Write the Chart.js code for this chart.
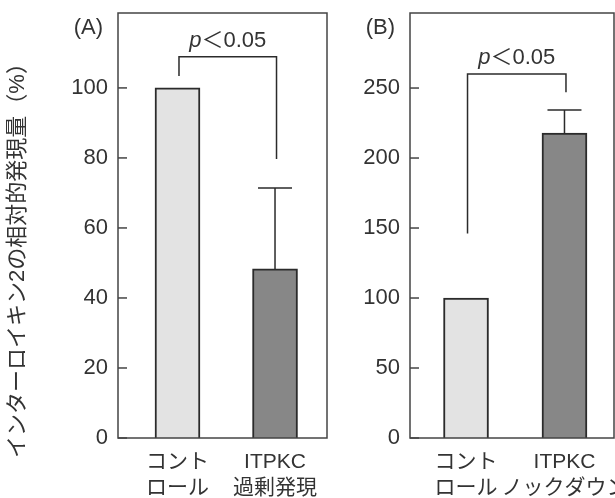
<!DOCTYPE html>
<html><head><meta charset="utf-8">
<script src="https://cdn.jsdelivr.net/npm/chart.js@4"></script>
<style>
html,body{margin:0;padding:0;background:#fff;}
#wrap{position:relative;width:615px;height:498px;}
#a{position:absolute;left:0;top:0;}
#b{position:absolute;left:340px;top:0;}
</style></head><body>
<div id="wrap">
<canvas id="a" width="340" height="498"></canvas>
<canvas id="b" width="275" height="498"></canvas>
</div>
<script>
// カテゴリ
const labelsA = [["コント", "ロール"], ["ITPKC", "過剰発現"]];
const labelsB = [["コント", "ロール"], ["ITPKC", "ノックダウン"]];
// 相対的発現量 (%)
const valuesA = [100, 48.3];
const valuesB = [100, 217.9];
// エラーバー上端 (null = なし)
const errTopA = [null, 71.4];
const errTopB = [null, 234.3];
// 目盛り
const ticksA = [0, 20, 40, 60, 80, 100];
const ticksB = [0, 50, 100, 150, 200, 250];
// 有意差ブラケット: 横線, 左脚の下端, 右脚の下端
const bracketA = [108.9, 103.4, 79.7];
const bracketB = [260, 146, 247];
const pText = "＜0.05";
const yTitle = "インターロイキン2の相対的発現量（%）";

const FONT = "'Liberation Sans','Noto Sans CJK JP',sans-serif";
const INK = "#333";
const SIZE = 22;
const barColors = ["#e3e3e3", "#878787"];

function decor(panel, errTop, bracket, withTitle) {
  return {
    id: "decor" + panel,
    afterDatasetsDraw(chart) {
      const ctx = chart.ctx, a = chart.chartArea;
      const xs = chart.scales.x, ys = chart.scales.y;
      ctx.save();
      ctx.strokeStyle = "#444";
      ctx.lineWidth = 1.5;
      // 枠
      ctx.strokeRect(a.left, a.top, a.right - a.left, a.bottom - a.top);
      // 内向きの目盛り
      ys.ticks.forEach(t => {
        const y = ys.getPixelForValue(t.value);
        ctx.beginPath();
        ctx.moveTo(a.left, y);
        ctx.lineTo(a.left + 9, y);
        ctx.stroke();
      });
      // エラーバー
      ctx.strokeStyle = "#2b2b2b";
      chart.data.datasets[0].data.forEach((d, i) => {
        if (errTop[i] == null) return;
        const x = xs.getPixelForValue(d.x);
        const y0 = ys.getPixelForValue(d.y);
        const y1 = ys.getPixelForValue(errTop[i]);
        ctx.beginPath();
        ctx.moveTo(x, y0);
        ctx.lineTo(x, y1);
        ctx.moveTo(x - 17, y1);
        ctx.lineTo(x + 17, y1);
        ctx.stroke();
      });
      // ブラケット
      const xl = xs.getPixelForValue(0) + 1.5;
      const xr = xs.getPixelForValue(1) + 1.5;
      const yh = ys.getPixelForValue(bracket[0]);
      ctx.beginPath();
      ctx.moveTo(xl, ys.getPixelForValue(bracket[1]));
      ctx.lineTo(xl, yh);
      ctx.lineTo(xr, yh);
      ctx.lineTo(xr, ys.getPixelForValue(bracket[2]));
      ctx.stroke();
      // p<0.05
      ctx.fillStyle = INK;
      ctx.textBaseline = "alphabetic";
      ctx.textAlign = "left";
      ctx.font = "italic " + SIZE + "px " + FONT;
      const wp = ctx.measureText("p").width;
      ctx.font = SIZE + "px " + FONT;
      const wr = ctx.measureText(pText).width;
      const cx = (xl + xr) / 2;
      const tx = cx - (wp + wr) / 2;
      ctx.font = "italic " + SIZE + "px " + FONT;
      ctx.fillText("p", tx, yh - 10);
      ctx.font = SIZE + "px " + FONT;
      ctx.fillText(pText, tx + wp, yh - 10);
      // パネルラベル
      ctx.textAlign = "right";
      ctx.fillText("(" + panel + ")", a.left - 15, 34);
      // 縦軸タイトル
      if (withTitle) {
        ctx.translate(18, 255);
        ctx.rotate(-Math.PI / 2);
        ctx.textAlign = "center";
        ctx.textBaseline = "middle";
        ctx.fillText(yTitle, 0, 0);
      }
      ctx.restore();
    }
  };
}

function makeChart(id, labels, values, errTop, yTicks, yMax, xMin, xMax, yWidth, padRight, bracket, panel, withTitle) {
  return new Chart(document.getElementById(id), {
    type: "bar",
    data: {
      datasets: [{
        data: values.map((v, i) => ({ x: i, y: v })),
        backgroundColor: barColors,
        borderColor: "#2b2b2b",
        borderWidth: 2,
        barThickness: 45
      }]
    },
    options: {
      responsive: false,
      animation: false,
      devicePixelRatio: 1,
      layout: { padding: { left: 0, top: 13, right: padRight, bottom: 0 } },
      plugins: { legend: { display: false }, tooltip: { enabled: false } },
      scales: {
        x: {
          type: "linear",
          offset: false,
          min: xMin,
          max: xMax,
          grid: { display: false, offset: false, drawTicks: false },
          border: { display: false },
          afterBuildTicks: s => { s.ticks = labels.map((l, i) => ({ value: i })); },
          afterFit: s => { s.height = 60; s.paddingLeft = 0; s.paddingRight = 0; },
          ticks: {
            padding: 12,
            maxRotation: 0,
            autoSkip: false,
            color: INK,
            font: { family: FONT, size: 21, lineHeight: 1.2 },
            callback: v => labels[v]
          }
        },
        y: {
          min: 0,
          max: yMax,
          grid: { display: false, drawTicks: false },
          border: { display: false },
          afterBuildTicks: s => { s.ticks = yTicks.map(v => ({ value: v })); },
          afterFit: s => { s.width = yWidth; s.paddingTop = 0; s.paddingBottom = 0; },
          ticks: {
            padding: 10,
            color: INK,
            font: { family: FONT, size: SIZE }
          }
        }
      }
    },
    plugins: [decor(panel, errTop, bracket, withTitle)]
  });
}

makeChart("a", labelsA, valuesA, errTopA, ticksA, 121.4, -0.61, 1.533, 118, 13, bracketA, "A", true);
makeChart("b", labelsB, valuesB, errTopB, ticksB, 303.6, -0.569, 1.503, 70, 1, bracketB, "B", false);
</script>
</body></html>
